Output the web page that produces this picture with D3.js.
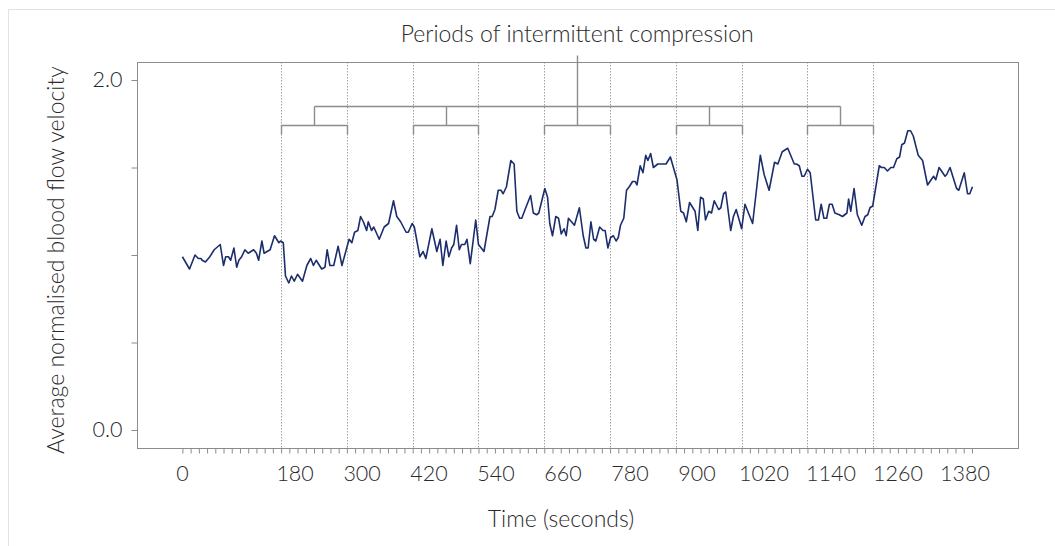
<!DOCTYPE html>
<html>
<head>
<meta charset="utf-8">
<script src="https://cdn.jsdelivr.net/npm/d3@7"></script>
<style>
  body { margin: 0; background: #fff; }
  svg { display: block; font-family: Lato, "Open Sans", sans-serif; font-weight: 300; }
  text { fill: #2a2a2a; font-size: 21.5px; }
  text.title { font-size: 23px; }
</style>
</head>
<body>
<svg class="main" width="1055" height="546"></svg>
<script>
// time in seconds
const times = [
  0, 13, 23, 29, 34, 36, 42, 50, 58, 69, 75, 79, 84, 88, 94, 99, 103, 108, 114, 120,
  125, 130, 135, 139, 145, 149, 160, 168, 176, 179, 184, 188, 194, 199, 204, 210, 219, 227, 234, 239,
  244, 254, 260, 264, 269, 276, 284, 291, 304, 309, 314, 320, 325, 330, 336, 339, 345, 349, 359, 368,
  376, 385, 391, 398, 408, 412, 419, 423, 433, 439, 444, 455, 464, 470, 475, 481, 486, 491, 495, 500,
  505, 509, 515, 519, 525, 535, 540, 550, 561, 565, 570, 576, 581, 585, 591, 599, 605, 610, 615, 619,
  625, 635, 640, 646, 650, 661, 666, 670, 675, 681, 686, 691, 696, 700, 704, 715, 724, 731, 736, 740,
  745, 750, 754, 761, 767, 771, 776, 781, 786, 791, 795, 799, 805, 810, 815, 821, 826, 829, 835, 840,
  845, 849, 854, 859, 867, 874, 882, 890, 902, 909, 914, 919, 925, 935, 940, 945, 950, 954, 960, 965,
  970, 978, 982, 987, 991, 1000, 1005, 1010, 1020, 1026, 1040, 1048, 1054, 1061, 1070, 1080, 1086, 1094, 1104, 1116,
  1120, 1125, 1130, 1134, 1140, 1145, 1155, 1160, 1165, 1170, 1175, 1180, 1185, 1190, 1198, 1204, 1212, 1215, 1219, 1225,
  1231, 1239, 1245, 1250, 1254, 1259, 1271, 1275, 1280, 1286, 1292, 1297, 1303, 1308, 1312, 1317, 1323, 1326, 1328, 1333,
  1342, 1350, 1359, 1370, 1374, 1380, 1391, 1394, 1400, 1406, 1412, 1416, 1426, 1432, 1436, 1441
];

const velocity = [
  0.99, 0.92, 1.00, 0.98, 0.98, 0.97, 0.96, 0.99, 1.03, 1.06, 0.94, 0.99, 0.99, 0.97, 1.04, 0.93, 0.97, 0.99, 1.03, 1.01,
  1.02, 1.03, 1.01, 0.97, 1.08, 1.01, 1.03, 1.11, 1.07, 1.08, 1.07, 0.88, 0.84, 0.88, 0.85, 0.89, 0.85, 0.94, 0.98, 0.94,
  0.97, 0.92, 0.93, 1.03, 0.94, 0.94, 1.05, 0.94, 1.09, 1.07, 1.13, 1.14, 1.22, 1.19, 1.14, 1.19, 1.14, 1.16, 1.09, 1.16,
  1.18, 1.31, 1.22, 1.19, 1.13, 1.13, 1.18, 1.16, 0.99, 1.02, 0.98, 1.15, 1.02, 1.09, 0.94, 1.08, 0.99, 1.04, 1.06, 1.17,
  1.03, 1.06, 1.06, 1.09, 0.95, 1.20, 1.06, 1.02, 1.22, 1.22, 1.26, 1.37, 1.37, 1.35, 1.39, 1.54, 1.52, 1.25, 1.21, 1.21,
  1.26, 1.34, 1.24, 1.23, 1.24, 1.38, 1.33, 1.18, 1.11, 1.22, 1.21, 1.12, 1.15, 1.11, 1.21, 1.17, 1.27, 1.11, 1.04, 1.04,
  1.19, 1.09, 1.08, 1.16, 1.14, 1.14, 1.04, 1.10, 1.11, 1.08, 1.10, 1.17, 1.21, 1.37, 1.39, 1.42, 1.42, 1.40, 1.51, 1.47,
  1.57, 1.54, 1.58, 1.50, 1.52, 1.52, 1.52, 1.56, 1.43, 1.25, 1.24, 1.19, 1.30, 1.25, 1.14, 1.33, 1.32, 1.20, 1.25, 1.24,
  1.31, 1.26, 1.27, 1.35, 1.36, 1.14, 1.22, 1.26, 1.15, 1.29, 1.18, 1.40, 1.57, 1.46, 1.37, 1.53, 1.52, 1.59, 1.61, 1.52,
  1.52, 1.51, 1.45, 1.45, 1.49, 1.47, 1.20, 1.20, 1.29, 1.21, 1.21, 1.29, 1.29, 1.24, 1.23, 1.22, 1.24, 1.32, 1.25, 1.38,
  1.23, 1.17, 1.22, 1.23, 1.27, 1.28, 1.51, 1.50, 1.50, 1.48, 1.50, 1.50, 1.55, 1.56, 1.63, 1.64, 1.71, 1.71, 1.71, 1.68,
  1.57, 1.54, 1.40, 1.45, 1.43, 1.50, 1.45, 1.46, 1.50, 1.44, 1.38, 1.37, 1.47, 1.35, 1.35, 1.39
];

// compression periods, start and end in seconds
const periodStarts = [180, 420, 660, 900, 1140];
const periodEnds = [300, 540, 780, 1020, 1260];

const xTickLabels = [0, 180, 300, 420, 540, 660, 780, 900, 1020, 1140, 1260, 1380];
const yTicks = [0, 0.5, 1, 1.5, 2];
const yTickLabels = [0, 2];

const title = "Periods of intermittent compression";
const xTitle = "Time (seconds)";
const yTitle = "Average normalised blood flow velocity";

const frame = { left: 137, right: 1018, top: 62, bottom: 448 };
const grey = "#8c8c8c";

const svg = d3.select(".main");

const x = d3.scaleLinear().domain([0, 1440]).range([182.4, 971.95]);
const y = d3.scaleLinear().domain([0, 2]).range([430, 80]);

// the printed labels sit a little to the right of their ticks
const labelX = d3
  .scaleLinear()
  .domain([180, 1380])
  .range([x(180) + 14, x(1380) + 26]);

const px = v => Math.round(v) + 0.5;

// outer panel edge
svg
  .append("rect")
  .attr("x", 8.5)
  .attr("y", 9.5)
  .attr("width", 1100)
  .attr("height", 600)
  .attr("fill", "none")
  .attr("stroke", "#e3e3e3");

// dotted period boundaries
const edges = [...periodStarts, ...periodEnds];
svg
  .append("g")
  .selectAll("line")
  .data(edges)
  .join("line")
  .attr("x1", d => px(x(d)))
  .attr("x2", d => px(x(d)))
  .attr("y1", frame.top)
  .attr("y2", frame.bottom)
  .attr("stroke", "#a0a0a0")
  .attr("stroke-dasharray", "1.5,1.5");

// plot frame
svg
  .append("rect")
  .attr("x", frame.left + 0.5)
  .attr("y", frame.top + 0.5)
  .attr("width", frame.right - frame.left)
  .attr("height", frame.bottom - frame.top)
  .attr("fill", "none")
  .attr("stroke", grey);

// x axis: minor ticks every 15 s
const xAxis = svg
  .append("g")
  .attr("transform", `translate(0,${frame.bottom + 0.5})`)
  .call(
    d3
      .axisBottom(x)
      .tickValues(d3.range(0, 1441, 15))
      .tickSize(5)
      .tickFormat("")
  );
xAxis.select(".domain").remove();
xAxis.selectAll("line").attr("stroke", grey);

svg
  .append("g")
  .selectAll("text")
  .data(xTickLabels)
  .join("text")
  .attr("x", d => (d === 0 ? x(d) : labelX(d)))
  .attr("y", 481)
  .attr("text-anchor", "middle")
  .text(d => d);

// y axis
const yAxis = svg
  .append("g")
  .attr("transform", `translate(${frame.left + 0.5},0)`)
  .call(
    d3
      .axisLeft(y)
      .tickValues(yTicks)
      .tickSize(6)
      .tickPadding(9)
      .tickFormat(d => (yTickLabels.includes(d) ? d3.format(".1f")(d) : ""))
  );
yAxis.select(".domain").remove();
yAxis.selectAll("line").attr("stroke", grey);
yAxis.attr("font-size", null).attr("font-family", null);
yAxis.selectAll("text").attr("fill", null);

// axis titles
svg
  .append("text")
  .attr("class", "title")
  .attr("x", 561)
  .attr("y", 527)
  .attr("text-anchor", "middle")
  .text(xTitle);

svg
  .append("text")
  .attr("class", "title")
  .attr("transform", "translate(55,260) rotate(-90)")
  .attr("text-anchor", "middle")
  .attr("dominant-baseline", "central")
  .text(yTitle);

// brackets over the compression periods
const bracketY = 125.5;
const joinY = 106.5;
const stemTop = 55.5;
const mids = periodStarts.map((s, i) => (s + periodEnds[i]) / 2);

const brackets = svg
  .append("g")
  .attr("fill", "none")
  .attr("stroke", grey)
  .attr("stroke-width", 1.4);

brackets
  .selectAll("path")
  .data(periodStarts)
  .join("path")
  .attr("d", (s, i) => {
    const x0 = px(x(s));
    const x1 = px(x(periodEnds[i]));
    const xm = px(x(mids[i]));
    return `M${x0},${bracketY + 9}V${bracketY}H${x1}V${bracketY + 9}M${xm},${bracketY}V${joinY}`;
  });

brackets
  .append("path")
  .attr("d", () => {
    const xa = px(x(d3.min(mids)));
    const xb = px(x(d3.max(mids)));
    const xc = px(x(d3.median(mids)));
    return `M${xa},${joinY}H${xb}M${xc},${joinY}V${stemTop}`;
  });

svg
  .append("text")
  .attr("class", "title")
  .attr("x", x(d3.median(mids)))
  .attr("y", 42)
  .attr("text-anchor", "middle")
  .text(title);

// velocity trace
const line = d3
  .line()
  .x((d, i) => x(times[i]))
  .y(d => y(d));

svg
  .append("path")
  .datum(velocity)
  .attr("d", line)
  .attr("fill", "none")
  .attr("stroke", "#1c2d6b")
  .attr("stroke-width", 1.6)
  .attr("stroke-linejoin", "round");
</script>
</body>
</html>
